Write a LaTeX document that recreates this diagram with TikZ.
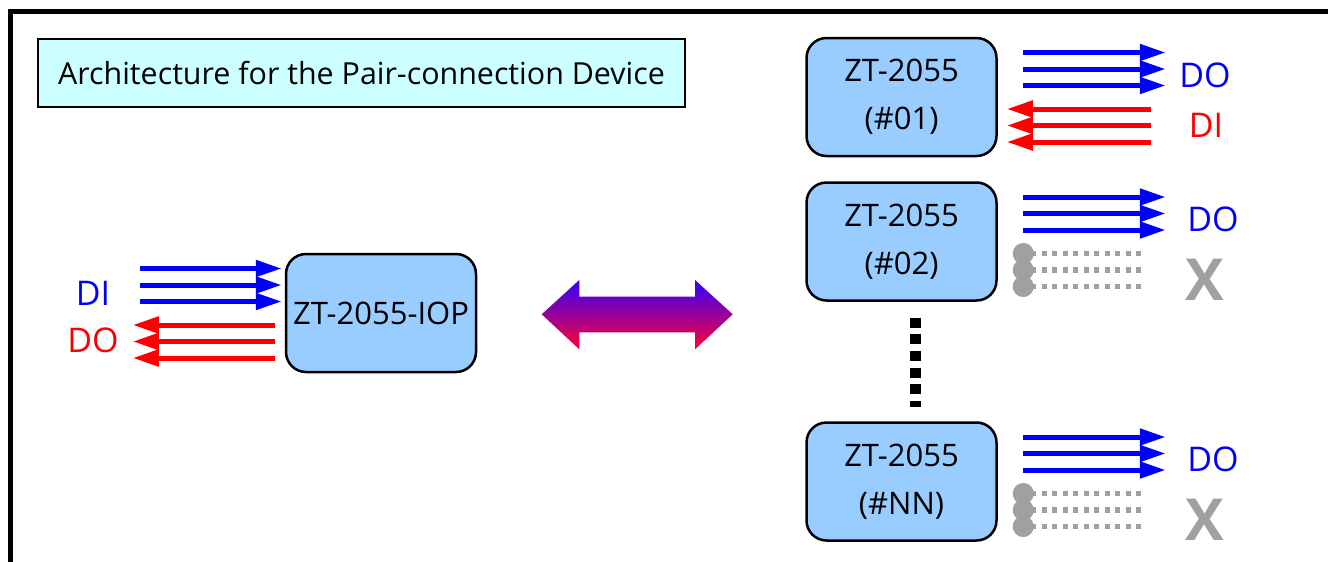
\documentclass[tikz,border=0pt]{standalone}
\usepackage{fontspec}
\setmainfont{Open Sans}
\usepackage{tikz}
\usetikzlibrary{arrows.meta}
\usepackage{xcolor}
\definecolor{boxblue}{RGB}{153,204,255}
\definecolor{titlecyan}{RGB}{204,255,255}
\definecolor{offgray}{RGB}{160,160,160}
\definecolor{arrowblue}{RGB}{51,0,255}
\definecolor{arrowred}{RGB}{255,0,51}
\tikzset{%
    board/.style={%
        draw, line width=2.5pt, rounded corners=20pt, fill=boxblue,
        minimum width=190pt, minimum height=118pt, inner sep=0pt,
        align=center, font=\fontsize{31}{48}\selectfont
    },
    outline/.style={line width=5pt, -{Triangle[length=26pt,width=16pt]}},
    unused/.style={line width=5.5pt, offgray, dash pattern=on 5pt off 5.5pt, {Circle[length=21pt]}-},
    sig/.style={font=\fontsize{34}{40}\selectfont},
    cross/.style={text=offgray, font=\fontsize{58}{60}\selectfont\bfseries}
}

\begin{document}
\begin{tikzpicture}[x=1pt,y=-1pt]
    \useasboundingbox (0,0) rectangle (1328,562);
    \draw[line width=5pt] (10.5,562) -- (10.5,11) -- (1328,11);
    \node[draw, line width=2pt, fill=titlecyan, minimum width=647pt, minimum height=68pt,
        font=\fontsize{30.4}{36}\selectfont] (title) at (361.5,73) {Architecture for the Pair-connection Device};
    \node[board] (iop) at (381,313) {ZT-2055-IOP};
    \node[board] (n01) at (901.5,97) {ZT-2055\\(\#01)};
    \node[board] (n02) at (901.5,241.5) {ZT-2055\\(\#02)};
    \node[board] (nNN) at (901.5,481.5) {ZT-2055\\(\#NN)};
    \node[sig, blue] (diIOP) at (93,293) {DI};
    \node[sig, red] (doIOP) at (93,340) {DO};
    \node[sig, blue] (do01) at (1205,75) {DO};
    \node[sig, red] (di01) at (1206,125) {DI};
    \node[sig, blue] (do02) at (1213,219) {DO};
    \node[cross] (x02) at (1204.5,280) {X};
    \node[sig, blue] (doNN) at (1213,459) {DO};
    \node[cross] (xNN) at (1204.5,520) {X};
    \foreach \d in {-44.5,-28,-11.5}
    {
    \draw[outline, blue] ([shift={(-145,\d)}]iop.west) -- ++(142,0);
    \draw[outline, blue] ([shift={(25,\d)}]n01.east) -- ++(143,0);
    \draw[outline, blue] ([shift={(25,\d)}]n02.east) -- ++(143,0);
    \draw[outline, blue] ([shift={(25,\d)}]nNN.east) -- ++(143,0);
    }
    \foreach \d in {12,28.5,45}
    {
    \draw[outline, red] ([shift={(-9.5,\d)}]iop.west) -- ++(-142.5,0);
    \draw[outline, red] ([shift={(153,\d)}]n01.east) -- ++(-144,0);
    \draw[unused] ([shift={(15,\d)}]n02.east) -- ++(130,0);
    \draw[unused] ([shift={(15,\d)}]nNN.east) -- ++(130,0);
    }
    \draw[line width=11pt, dash pattern=on 10pt off 6.6pt] ([shift={(14,16)}]n02.south) -- ([shift={(14,-14)}]nNN.north);
    \shade[top color=arrowblue, bottom color=arrowred] (541.7,314.3) -- (579.3,280) -- (579.3,296.7)
        -- (695,296.7) -- (695,280) -- (732.7,314.3) -- (695,349.3) -- (695,332.3)
        -- (579.3,332.3) -- (579.3,349.3) -- cycle;
\end{tikzpicture}
\end{document}
